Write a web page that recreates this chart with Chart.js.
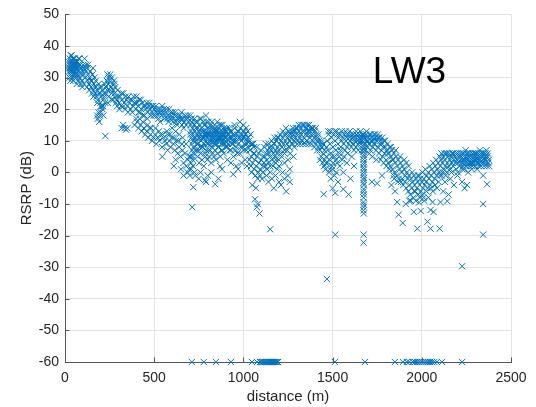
<!DOCTYPE html>
<html>
<head>
<meta charset="utf-8">
<script src="https://cdn.jsdelivr.net/npm/chart.js@4.4.1/dist/chart.umd.min.js"></script>
<style>
html,body{margin:0;padding:0;background:#fff;}
canvas{display:block;}
</style>
</head>
<body>
<canvas id="c" width="536" height="407"></canvas>
<script>
// ---- data (distance in m, RSRP in dB) ----
const xTicks = [0, 500, 1000, 1500, 2000, 2500];
const yTicks = [-60, -50, -40, -30, -20, -10, 0, 10, 20, 30, 40, 50];

const nearSite = [[20,33],[22,35],[24,32],[25,34],[27,36],[28,33],[30,31],[31,34],[33,35],[34,32],[36,33],[37,37],[39,34],[40,32],[42,35],[43,33],[45,31],[46,34],[48,36],[49,33],[51,32],[52,35],[54,34],[55,31],[57,33],[58,35],[60,32],[62,34],[64,30],[66,28],[68,33],[70,35],[72,31],[75,34],[78,32],[80,36],[83,30],[86,33],[90,31],[94,29],[98,32],[102,34],[106,31],[110,36],[114,30],[118,32],[122,33],[126,29],[130,31],[30,29],[40,30],[55,30],
[134,28],[138,30],[142,32],[146,27],[150,29],[154,31],[158,26],[162,28],[166,30],[170,25],[174,27],[178,24],[182,26],[186,23],[190,25],[194,27],[198,22],[202,24],[206,21],[210,26],[214,23],[218,25],[222,28],[226,22],[230,27],[234,29],[238,31],[242,28],[246,30],[250,29],[254,31],[258,27],[262,30],[266,28],[270,26],[274,29],[278,25],[282,27],[286,24],[290,23],[294,26],[298,24],[180,18],[184,17],[188,19],[192,16],[196,18],[226,11.5],[160,24],[200,21],[240,22],[260,23],[210,20],
[26,30],[33,37],[44,36],[47,29],[53,36],[61,31],[67,35],[73,29],[77,36],[84,34],[88,28],[92,33],[97,27],[104,28],[108,33],[117,34],[124,27],[128,34],[136,26],[144,29],[152,25],[157,33],[165,27],[173,29],[181,22],[189,28],[197,25],[205,27],[213,21],[221,24],[229,25],[237,26],[245,24],[253,26],[261,25],[269,23],[277,28],[285,22],[293,21],[200,19],[215,18]];

const midRange = [[302,22],[308,24],[314,21],[320,23],[326,25],[332,22],[338,20],[344,23],[350,21],[356,24],[362,22],[368,20],[374,23],[380,21],[386,24],[392,22],[398,20],[404,22],[410,21],[416,23],[422,19],[428,20],[434,22],[440,21],[446,18],[452,20],[458,22],[464,19],[470,21],[476,20],[482,18],[488,19],[494,21],[500,20],[506,18],[512,19],[518,20],[524,17],[530,19],[536,20],[542,18],[548,19],[554,20],[560,18],[566,19],[572,17],[578,18],[584,20],[590,17],[596,18],[602,19],[608,17],[614,18],[620,16],[626,18],[632,17],[638,16],[644,18],[650,17],[656,15],[662,17],[668,16],[674,18],[680,15],[686,17],[692,16],
[318,14],[326,15],[334,14],[342,13.5],[350,14],[390,15],[398,17],[404,16],[412,14],[418,17],[424,15],[430,13],[436,16],[442,14],[450,12],[458,13],[466,11],[474,14],[480,12],[488,10],[496,11],[504,12],[512,9],[520,11],[528,10],[536,12],[544,8],[552,11],[560,10],[568,9],[576,12],[584,10],[592,8],[600,11],[608,9],[616,7],[624,10],[632,6],[640,8],[648,5],[656,9],[664,3],[672,6],[680,2],[688,4],[696,1],[688,0],[600,14],[620,13],[640,12],[660,11],[620,4],[650,1],[700,-1],
[305,20],[317,25],[329,21],[341,24],[353,19],[365,23],[377,19],[389,22],[401,24],[413,19],[425,23],[437,18],[449,21],[461,17],[473,22],[485,21],[497,18],[509,21],[521,18],[533,16],[545,21],[557,17],[569,20],[581,16],[593,19],[605,16],[617,19],[629,15],[641,17],[653,19],[665,14],[677,17],[689,18],[463,15],[483,14],[507,14],[527,13],[547,12],[571,13],[587,12],[611,11],[635,10],[659,7],[679,9],[697,5],[545,5],[575,7],[610,2],[665,-1]];

const denseCloud = [[702,18],[704,15],[706,13],[708,11],[710,9],[712,7],[705,5],[708,3],[711,16],[714,14],[716,12],[718,10],[720,8],[722,6],[715,4],[718,2],[724,15],[726,17],[728,13],[730,11],[719,-4.7],[713,-11],[707,1],[725,0],[730,-1],
[734,14],[736,10],[738,7],[740,12],[742,16],[744,5],[746,9],[748,13],[750,11],[752,3],[754,15],[756,8],[758,12],[760,6],[762,17],[764,10],[766,14],[768,4],[770,11],[772,8],[774,13],[776,16],[778,2],[780,9],[782,12],[784,6],[786,15],[788,10],[790,18],[792,7],[794,13],[796,11],[798,4],[800,14],[802,9],[804,16],[806,12],[808,5],[810,10],[812,13],[814,7],[816,15],[818,11],[820,3],[822,12],[824,8],[826,14],[828,10],[830,6],[832,13],[834,9],[836,11],[838,15],[840,7],[842,12],[844,10],[846,4],[848,13],[850,9],[852,11],[854,16],[856,6],[858,12],[860,10],[862,14],[864,8],[866,11],[868,13],[870,5],[872,10],[874,12],[876,15],[878,9],[880,11],[882,7],[884,13],[886,10],[888,12],[890,6],[892,14],[894,11],[896,9],[898,13],
[785,-2.5],[842,-3.75],[800,-1],[760,0],[880,1],[860,-2],[820,0],[790,-3],[870,2],[750,-2],
[900,11],[904,13],[908,8],[912,12],[916,10],[920,14],[924,7],[928,11],[932,13],[936,9],[940,12],[944,5],[948,10],[952,14],[956,11],[960,8],[964,12],[968,13],[972,9],[976,11],[980,6],[984,14],[988,10],[992,12],[996,8],[1000,11],[1004,13],[1008,9],[1012,12],[1016,7],[1020,10],[1024,13],[1028,8],[943,-0.6],[960,2],[990,3],[1010,4],[930,3],[970,1],[910,4],[1020,2],[950,15],[1000,15],[980,16],
[703,12],[709,17],[717,5],[723,11],[729,7],[733,16],[739,9],[745,14],[751,7],[757,17],[763,13],[769,8],[775,11],[781,15],[787,5],[793,16],[799,9],[805,7],[811,14],[817,9],[823,16],[829,12],[835,5],[841,14],[847,10],[853,13],[859,8],[865,15],[871,11],[877,7],[883,15],[889,9],[895,12],[901,8],[907,14],[913,9],[919,11],[925,13],[931,7],[937,11],[943,9],[949,12],[955,7],[961,10],[967,6],[973,13],[979,11],[985,8],[991,11],[997,13],[1003,7],[1009,11],[1015,14],[1021,9],[1027,11],[760,11],[780,13],[800,12],[820,10],[840,13],[860,11],[880,12],[900,10],[920,12],[940,10],[780,11],[810,12],[790,12],[830,11]];

const dipAndArch = [[1032,10],[1036,7],[1040,12],[1044,5],[1048,9],[1052,3],[1056,6],[1060,1],[1064,4],[1068,-1],[1072,2],[1076,5],[1080,-2],[1084,0],[1088,3],[1092,-1],[1096,1],[1100,4],[1104,-2],[1108,0],[1112,2],[1050,-4],[1045,0],[1070,-5],[1065,-8.5],[1080,-10],[1090,-13],[1075,-11],[1150,-18],[1060,8],[1040,9],
[1116,3],[1120,5],[1124,2],[1128,6],[1132,4],[1136,7],[1140,3],[1144,6],[1148,8],[1152,5],[1156,7],[1160,4],[1164,8],[1168,6],[1172,9],[1176,5],[1180,7],[1184,10],[1188,6],[1192,8],[1196,11],[1200,7],[1204,9],[1208,6],[1212,10],[1216,8],[1220,11],[1224,9],[1228,12],[1232,7],[1236,10],[1240,12],[1244,9],[1248,11],[1252,13],[1256,8],[1260,10],[1264,12],[1268,11],[1272,13],[1276,9],[1280,12],[1284,10],[1288,13],[1292,11],[1296,12],[1300,14],[1304,10],[1308,12],[1312,13],[1316,11],[1320,14],[1324,12],[1328,10],[1332,13],[1336,15],[1340,11],[1344,13],[1348,12],[1352,14],[1356,10],[1360,13],[1364,12],[1368,15],[1372,11],[1376,13],[1380,12],[1384,14],[1388,10],[1392,12],[1396,11],[1400,13],[1404,9],[1408,12],[1412,10],[1416,11],[1420,8],[1424,10],[1428,7],[1432,9],[1436,5],[1440,8],[1444,3],[1448,6],[1452,2],[1456,4],[1460,1],[1464,5],
[1130,-1],[1140,-3],[1150,0],[1160,-2],[1170,-5],[1180,-1],[1190,1],[1200,-3],[1210,-4],[1220,0],[1230,-2],[1240,-6],[1250,-1],[1260,-3],[1200,2],[1230,3],[1180,3],[1260,1],[1250,4],[1280,5],
[1034,4],[1042,2],[1054,9],[1062,6],[1074,8],[1086,6],[1098,7],[1110,5],[1118,8],[1126,9],[1134,1],[1142,9],[1150,2],[1158,10],[1166,2],[1174,11],[1182,4],[1190,11],[1198,4],[1206,12],[1214,5],[1222,13],[1230,6],[1238,14],[1246,7],[1254,12],[1262,6],[1270,9],[1278,14],[1286,8],[1294,14],[1302,9],[1310,15],[1318,9],[1326,15],[1334,9],[1342,15],[1350,9],[1358,15],[1366,9],[1374,14],[1382,9],[1390,14],[1398,8],[1406,14],[1414,7],[1422,12],[1430,4],[1438,10],[1446,9],[1454,7],[1462,3],[1466,8]];

const farRange = [[1470,10],[1474,7],[1478,12],[1482,4],[1486,9],[1490,6],[1494,11],[1498,2],[1502,8],[1506,12],[1510,5],[1514,10],[1518,7],[1522,13],[1526,3],[1530,9],[1534,11],[1538,6],[1542,12],[1546,8],[1550,10],[1554,4],[1558,11],[1562,9],[1566,12],[1570,7],[1574,10],[1578,11],[1582,8],[1586,12],[1590,9],[1594,11],[1598,10],[1602,12],[1606,8],[1610,11],[1614,9],[1618,12],[1622,10],[1626,11],[1630,8],[1634,12],[1638,10],[1642,9],[1646,11],[1650,12],[1654,10],[1658,9],[1662,11],[1666,10],[1480,0],[1490,-2],[1500,1],[1510,-1],[1520,0],[1540,2],[1560,0],[1580,3],[1600,-2],[1620,2],[1450,-6.9],[1515,-6.5],[1560,-5.3],[1590,-7],[1515,-19.7],[1468,-33.75],[1530,-3],[1500,-5],
[1674,12],[1673,11.3],[1675,10.5],[1674,9.7],[1673,8.9],[1675,8.1],[1674,7.2],[1673,6.5],[1675,5.6],[1674,4.9],[1673,4.1],[1675,3.2],[1674,2.5],[1673,1.6],[1675,0.9],[1674,0],[1673,-0.8],[1675,-1.7],[1674,-2.4],[1673,-3.3],[1675,-4],[1674,-5.3],[1673,-6.1],[1675,-7],[1674,-8],[1673,-9.4],[1675,-10.2],[1674,-11],[1673,-12],[1675,-13],[1674,-19.7],[1674,-22.2],
[1680,11],[1684,9],[1688,12],[1692,10],[1696,8],[1700,11],[1704,9],[1708,12],[1712,7],[1716,10],[1720,11],[1724,8],[1728,10],[1732,12],[1736,9],[1740,11],[1744,7],[1748,10],[1752,8],[1756,11],[1760,6],[1764,9],[1768,10],[1772,7],[1776,9],[1780,5],[1784,8],[1788,10],[1792,6],[1796,8],[1800,4],[1804,7],[1808,9],[1812,3],[1816,6],[1820,8],[1824,2],[1828,5],[1832,7],[1836,1],[1840,4],[1844,6],[1848,0],[1852,3],[1856,5],[1860,-1],[1864,2],[1868,4],[1872,-2],[1876,1],[1880,3],[1884,-3],[1888,0],[1892,2],[1896,-4],[1750,-3.5],[1720,-3],[1830,-4],[1850,-6],[1862,-9.4],[1870,-13.4],[1893,-16],[1845,-2],[1777,-1],
[1472,3],[1476,13],[1484,1],[1488,13],[1496,5],[1504,3],[1512,13],[1520,4],[1528,12],[1536,5],[1544,7],[1552,13],[1564,5],[1572,13],[1584,6],[1596,13],[1608,5],[1620,7],[1632,13],[1644,7],[1656,13],[1664,7],[1668,12],[1682,7],[1690,13],[1698,10],[1706,6],[1714,12],[1722,5],[1730,9],[1738,12],[1746,4],[1754,12],[1762,11],[1770,4],[1778,11],[1786,3],[1794,10],[1802,2],[1810,6],[1818,1],[1826,8],[1834,4],[1842,-1],[1854,7],[1866,-3],[1878,5],[1890,-2]];

const valleyAndPlateau = [[1900,1],[1904,-3],[1908,-1],[1912,-5],[1916,0],[1920,-2],[1924,-6],[1928,-1],[1932,-4],[1936,-7],[1940,-2],[1944,-5],[1948,-3],[1952,-8],[1956,-1],[1960,-4],[1964,-6],[1968,-2],[1972,-5],[1976,-3],[1980,-7],[1984,-1],[1988,-4],[1992,-2],[1996,-6],[2000,-3],[2004,0],[2008,-5],[2012,-2],[2016,-4],[2020,1],[2024,-3],[2028,-1],[2032,-5],[2036,0],[2040,-2],[2044,2],[2048,-4],[2052,-1],[2056,1],[2060,-3],[2064,3],[2068,0],[2072,-2],[2076,2],[2080,4],[2084,-1],[2088,1],[2092,3],[2096,0],[2100,5],
[1955,-12.5],[1994,-12.2],[2049,-11.9],[2066,-12.5],[2060,-9.4],[2105,-9.4],[2143,-9.1],[1975,-17.8],[2032,-15.6],[2049,-17.8],[2100,-17.8],[1930,-9],[1910,-10],[2010,-8],[1985,-9.5],
[2104,2],[2108,4],[2112,-1],[2116,3],[2120,5],[2124,1],[2128,4],[2132,2],[2136,6],[2140,0],[2144,3],[2148,5],[2152,2],[2156,4],[2160,1],[2164,5],[2168,3],[2172,6],[2176,2],[2180,4],[2184,5],[2188,3],[2192,1],[2196,4],[2200,6],[2204,3],[2208,5],[2212,2],[2216,4],[2220,5],[2224,3],[2228,1],[2232,4],[2236,6],[2240,3],[2244,5],[2248,2],[2252,4],[2256,3],[2260,5],[2264,4],[2268,2],[2272,5],[2276,3],[2280,4],[2284,6],[2288,3],[2292,5],[2296,4],[2300,2],[2304,5],[2308,3],[2312,4],[2316,6],[2320,3],[2324,5],[2328,4],[2332,2],[2336,5],[2340,3],[2344,4],[2348,6],[2352,3],[2356,5],[2360,4],[2364,2],[2368,5],[2372,3],[2376,4],[2250,6],[2300,6],[2330,6],[2280,1],[2310,1],[2260,0],
[2226,-3],[2240,-5],[2254,-4],[2344,-1],[2366,-3.75],[2344,-10],[2344,-19.7],[2226,-29.7],[2130,-3],[2160,-2],[2180,-4],[2200,-1],[2120,-6],[2150,-7],
[1902,4],[1914,3],[1926,2],[1938,-9],[1946,0],[1958,-6],[1966,-9],[1978,-1],[1990,-8],[2002,-7],[2014,-9],[2026,-6],[2038,-8],[2050,-5],[2062,-6],[2074,-4],[2086,-5],[2094,-3],[2102,-1],[2110,6],[2118,0],[2126,6],[2134,-1],[2142,6],[2154,6],[2166,0],[2178,6],[2190,6],[2202,0],[2214,6],[2226,6],[2238,1],[2246,7],[2258,6],[2270,6],[2282,2],[2294,6],[2306,6],[2318,2],[2326,7],[2338,6],[2350,2],[2358,6],[2370,6],[2378,2],[2362,7],[2230,2],[2270,3],[2320,4],[2354,4],[2300,4],[2240,4]];

// samples clipped at the -60 dB floor
const floorDistance = [711,778,846,930,1048,1076,1093,1100,1106,1112,1118,1124,1130,1136,1142,1148,1154,1160,1166,1172,1178,1184,1190,1194,1513,1681,1849,1894,1916,1930,1950,1962,1974,1986,1998,2010,2022,2034,2046,2058,2070,2085,2113,2226];
const floorRSRP = -60;

const annotationText = 'LW3';

// ---- chart ----
const BLUE = '#0072BD';
const FONT = "'Liberation Sans', Arial, Helvetica, sans-serif";
const MARK_R = 4.4;
const toPts = arr => arr.map(p => ({x: p[0], y: p[1]}));
const allPts = [].concat(toPts(nearSite), toPts(midRange), toPts(denseCloud), toPts(dipAndArch), toPts(farRange), toPts(valleyAndPlateau));
const floorPts = floorDistance.map(d => ({x: d, y: floorRSRP}));

const extras = {
  id: 'extras',
  afterDraw(chart) {
    const {ctx, chartArea: a, scales: {x, y}} = chart;
    ctx.save();
    // inward tick marks
    ctx.strokeStyle = '#555';
    ctx.lineWidth = 1;
    ctx.beginPath();
    xTicks.forEach(v => { const px = Math.round(x.getPixelForValue(v)) + 0.5; ctx.moveTo(px, a.bottom); ctx.lineTo(px, a.bottom - 4.5); });
    yTicks.forEach(v => { const py = Math.round(y.getPixelForValue(v)) + 0.5; ctx.moveTo(a.left, py); ctx.lineTo(a.left + 4.5, py); });
    ctx.stroke();
    // axis titles
    ctx.fillStyle = '#262626';
    ctx.font = '15px ' + FONT;
    ctx.textAlign = 'center';
    ctx.textBaseline = 'middle';
    ctx.fillText('distance (m)', (a.left + a.right) / 2, 397);
    ctx.save();
    ctx.translate(27, (a.top + a.bottom) / 2);
    ctx.rotate(-Math.PI / 2);
    ctx.fillText('RSRP (dB)', 0, 0);
    ctx.restore();
    // annotation
    ctx.fillStyle = '#000';
    ctx.font = '37px ' + FONT;
    ctx.fillText(annotationText, x.getPixelForValue(1931), y.getPixelForValue(31.6));
    ctx.restore();
  }
};

new Chart(document.getElementById('c'), {
  type: 'scatter',
  data: {
    datasets: [
      {data: allPts, pointStyle: 'crossRot', radius: MARK_R, borderWidth: 1, borderColor: BLUE, backgroundColor: BLUE, clip: false},
      {data: floorPts, pointStyle: 'crossRot', radius: MARK_R, borderWidth: 1, borderColor: BLUE, backgroundColor: BLUE, clip: false}
    ]
  },
  options: {
    responsive: false,
    animation: false,
    layout: {padding: {top: 10, right: 25, left: 0, bottom: 0}},
    plugins: {legend: {display: false}, tooltip: {enabled: false}},
    elements: {point: {hoverRadius: MARK_R}},
    scales: {
      x: {
        type: 'linear', min: 0, max: 2500,
        afterBuildTicks: s => { s.ticks = xTicks.map(v => ({value: v})); },
        afterFit: s => { s.height = 45; },
        grid: {color: '#e3e3e3', drawTicks: false},
        border: {color: '#555', width: 1},
        ticks: {color: '#262626', font: {family: FONT, size: 14}, padding: 8, maxRotation: 0, callback: v => String(v)}
      },
      y: {
        type: 'linear', min: -60, max: 50,
        afterBuildTicks: s => { s.ticks = yTicks.map(v => ({value: v})); },
        afterFit: s => { s.width = 65; },
        grid: {color: '#e3e3e3', drawTicks: false},
        border: {color: '#555', width: 1},
        ticks: {color: '#262626', font: {family: FONT, size: 14}, padding: 6, callback: v => String(v)}
      }
    }
  },
  plugins: [extras]
});
</script>
</body>
</html>
